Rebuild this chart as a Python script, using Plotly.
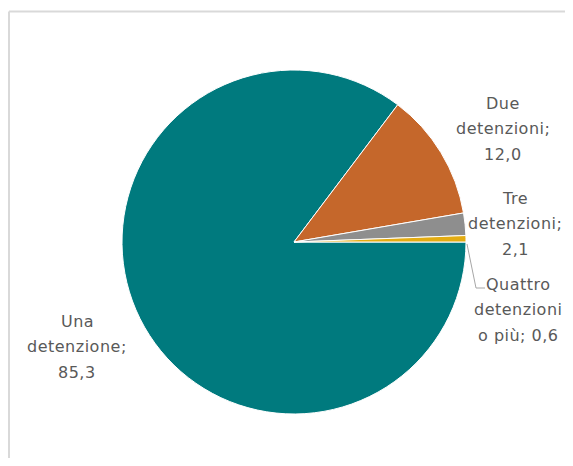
import plotly.graph_objects as go

categories = ["Una detenzione", "Due detenzioni", "Tre detenzioni", "Quattro detenzioni o più"]
values = [85.3, 12.0, 2.1, 0.6]
label_lines = [
    ["Una", "detenzione;", "85,3"],
    ["Due", "detenzioni;", "12,0"],
    ["Tre", "detenzioni;", "2,1"],
    ["Quattro", "detenzioni", "o più; 0,6"],
]
colors = ["#007A7E", "#C5672B", "#8E8E8E", "#E3AC12"]

OFF = 8  # page body margin
W, H = 573 - OFF, 466 - 2 * OFF
cx, cy, r = 294 - OFF, 242 - OFF, 172


def px(x):
    return (x - OFF) / W


def py(y):
    return 1 - (y - OFF) / H


fig = go.Figure()
fig.add_trace(go.Pie(
    labels=categories, values=values, sort=False, direction="clockwise",
    rotation=90, textinfo="none", hoverinfo="label+value",
    marker=dict(colors=colors, line=dict(color="white", width=1)),
    domain=dict(x=[(cx - r) / W, (cx + r) / W], y=[1 - (cy + r) / H, 1 - (cy - r) / H]),
    showlegend=False,
))

label_pos = [(77, 321), (503, 103), (515, 198), (518, 284)]
spacing = 25.5
annotations = []
for lines, (x0, y0) in zip(label_lines, label_pos):
    for i, t in enumerate(lines):
        annotations.append(dict(
            x=px(x0), y=py(y0 + i * spacing), xref="paper", yref="paper",
            text=f'<span style="letter-spacing:0.5px">{t}</span>',
            showarrow=False, xanchor="center", yanchor="middle",
            font=dict(family="DejaVu Sans", size=16, color="#595959"),
        ))

shapes = [
    dict(type="line", xref="paper", yref="paper", x0=px(9), y0=py(11.5), x1=1.0, y1=py(11.5),
         line=dict(color="#D9D9D9", width=2)),
    dict(type="line", xref="paper", yref="paper", x0=px(9), y0=py(11.5), x1=px(9), y1=0,
         line=dict(color="#D9D9D9", width=2)),
    dict(type="path", xref="paper", yref="paper",
         path=f"M {px(467)} {py(244)} L {px(476)} {py(288)} L {px(476 + 9)} {py(288)}",
         line=dict(color="#A6A6A6", width=1)),
]

fig.update_layout(
    width=W, height=H, margin=dict(l=0, r=0, t=0, b=0),
    paper_bgcolor="white", plot_bgcolor="white",
    annotations=annotations, shapes=shapes,
)
fig.write_html("out.html")
